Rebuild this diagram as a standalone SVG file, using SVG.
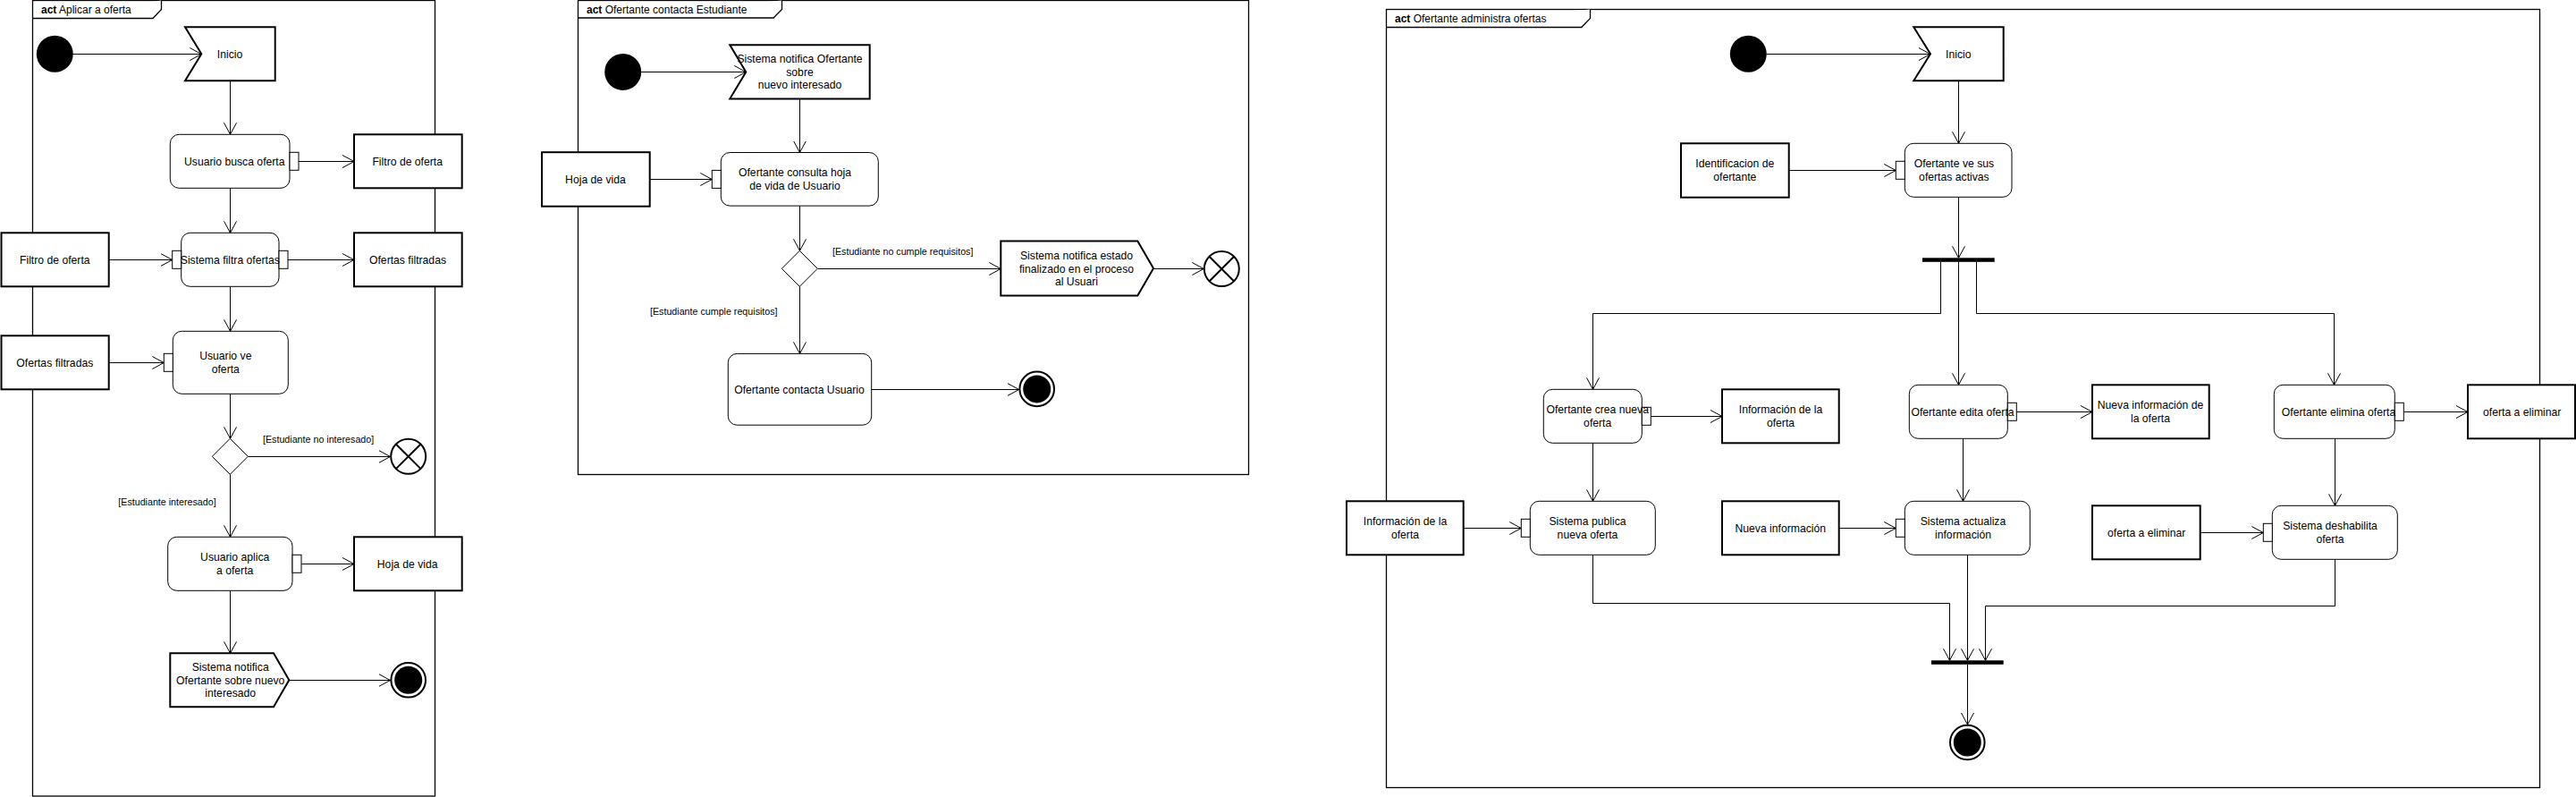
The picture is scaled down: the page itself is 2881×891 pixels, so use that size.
<svg xmlns="http://www.w3.org/2000/svg" width="2881" height="891" viewBox="0 0 2881 891">
<style>
.frame{fill:none;stroke:#000;stroke-width:1.3}
.tab{fill:#fff;stroke:#000;stroke-width:1.3}
.act{fill:#fff;stroke:#000;stroke-width:1}
.obj{fill:#fff;stroke:#000;stroke-width:2}
.pin{fill:#fff;stroke:#000;stroke-width:1}
.sig{fill:#fff;stroke:#000;stroke-width:2;stroke-linejoin:miter}
.dec{fill:#fff;stroke:#000;stroke-width:1}
.ini{fill:#000}
.ff{fill:#fff;stroke:#000;stroke-width:2}
.bar{fill:#000}
.t{font-family:"Liberation Sans",Arial,sans-serif;font-size:12.2px;text-anchor:middle;fill:#000}
.ti{font-family:"Liberation Sans",Arial,sans-serif;font-size:12px;fill:#000}
.g{font-family:"Liberation Sans",Arial,sans-serif;font-size:10.7px;fill:#000}
.e{fill:none;stroke:#000;stroke-width:1;marker-end:url(#arr)}
</style>
<defs>
<marker id="arr" viewBox="0 0 14 16" refX="13" refY="8" markerWidth="14" markerHeight="16" orient="auto" markerUnits="userSpaceOnUse"><path d="M0,1 L13,8 L0,15" fill="none" stroke="#000" stroke-width="1"/></marker>
</defs>
<rect width="2881" height="891" fill="#fff"/>

<g id="frame1">
<rect class="frame" x="36.5" y="0.5" width="450" height="889.5"/>
<path class="tab" d="M36.5,20.5 H171 L180.5,10.5 V0.5"/>
<text class="ti" x="46" y="15"><tspan font-weight="bold">act</tspan> Aplicar a oferta</text>
</g>
<g id="frame2">
<rect class="frame" x="646.5" y="0.5" width="750" height="530"/>
<path class="tab" d="M646.5,20 H865 L874.5,10.5 V0.5"/>
<text class="ti" x="656" y="15"><tspan font-weight="bold">act</tspan> Ofertante contacta Estudiante</text>
</g>
<g id="frame3">
<rect class="frame" x="1550.5" y="10.5" width="1290" height="870"/>
<path class="tab" d="M1550.5,30.5 H1768.7 L1778.5,20.5 V10.5"/>
<text class="ti" x="1560" y="25"><tspan font-weight="bold">act</tspan> Ofertante administra ofertas</text>
</g>

<g id="connectors">
<path class="e" d="M81.8,60.5 H225.3"/>
<path class="e" d="M257.5,90.3 V150.3"/>
<path class="e" d="M334,180.5 H396"/>
<path class="e" d="M257.5,210.3 V260.3"/>
<path class="e" d="M121.7,290.5 H192.7"/>
<path class="e" d="M322,290.5 H396"/>
<path class="e" d="M257.5,320.3 V370.3"/>
<path class="e" d="M121.7,405.5 H183.3"/>
<path class="e" d="M257.5,440.3 V490.3"/>
<path class="e" d="M277.3,510.5 H436.5"/>
<path class="e" d="M257.5,530.3 V600.3"/>
<path class="e" d="M337.3,630.5 H396"/>
<path class="e" d="M257.5,660.3 V730.3"/>
<path class="e" d="M323.3,760.5 H436.5"/>
<text class="g" x="294" y="494.8">[Estudiante no interesado]</text>
<text class="g" x="132.3" y="564.8">[Estudiante interesado]</text>

<path class="e" d="M717,80.5 H834.3"/>
<path class="e" d="M894.5,110.5 V170.5"/>
<path class="e" d="M726.7,200.5 H796.3"/>
<path class="e" d="M894.5,230.1 V280.3"/>
<path class="e" d="M914.3,300.5 H1119.3"/>
<path class="e" d="M1290,300.5 H1346.3"/>
<path class="e" d="M894.5,320.3 V395.4"/>
<path class="e" d="M974.7,435.5 H1139.7"/>
<text class="g" x="931" y="284.8">[Estudiante no cumple requisitos]</text>
<text class="g" x="727" y="352">[Estudiante cumple requisitos]</text>

<path class="e" d="M1975.8,60.5 H2159"/>
<path class="e" d="M2190.5,90.3 V160.3"/>
<path class="e" d="M2000.7,190.5 H2120.3"/>
<path class="e" d="M2190.5,220.3 V288.3"/>
<path class="e" d="M2170.5,292.8 V350.5 H1781.5 V435.3"/>
<path class="e" d="M2190.5,292.8 V430.3"/>
<path class="e" d="M2210.5,292.8 V350.5 H2610.5 V430.3"/>
<path class="e" d="M1846.3,465.5 H1926"/>
<path class="e" d="M1781.5,495.3 V560.3"/>
<path class="e" d="M1636.7,590.5 H1701.3"/>
<path class="e" d="M2255.3,460.5 H2340"/>
<path class="e" d="M2195.5,490.3 V560.3"/>
<path class="e" d="M2056.7,590.5 H2120.3"/>
<path class="e" d="M2688.3,460.5 H2760"/>
<path class="e" d="M2611.5,490.3 V565.3"/>
<path class="e" d="M2460.7,595.5 H2531.3"/>
<path class="e" d="M1781.5,620.3 V674.5 H2180.5 V738.3"/>
<path class="e" d="M2200.5,620.3 V738.3"/>
<path class="e" d="M2611.5,625.3 V677.5 H2220.5 V738.3"/>
<path class="e" d="M2200.5,742.8 V810"/>
</g>

<g id="n1_initial"><circle class="ini" cx="61.3" cy="60.3" r="20.5"/></g>
<g id="n1_inicio">
<polygon class="sig" points="207,30.3 307.7,30.3 307.7,90.3 207,90.3 225.3,60.3"/>
<text class="t" x="257" y="64.7">Inicio</text>
</g>
<g id="n1_busca">
<rect class="act" x="190.3" y="150.3" width="133.7" height="60" rx="10"/>
<rect class="pin" x="324" y="170.3" width="10" height="20"/>
<text class="t" x="262.3" y="184.7">Usuario busca oferta</text>
</g>
<g id="n1_filtro_out">
<rect class="obj" x="396" y="150.3" width="120.7" height="60"/>
<text class="t" x="455.7" y="184.7">Filtro de oferta</text>
</g>
<g id="n1_filtra">
<rect class="act" x="202.7" y="260.3" width="109.3" height="60" rx="10"/>
<rect class="pin" x="192.7" y="280.3" width="10" height="20"/>
<rect class="pin" x="312" y="280.3" width="10" height="20"/>
<text class="t" x="257.3" y="294.7">Sistema filtra ofertas</text>
</g>
<g id="n1_filtro_in">
<rect class="obj" x="1.5" y="260.3" width="120.2" height="60"/>
<text class="t" x="61.3" y="294.7">Filtro de oferta</text>
</g>
<g id="n1_ofertas_out">
<rect class="obj" x="396" y="260.3" width="120.7" height="60"/>
<text class="t" x="456" y="294.7">Ofertas filtradas</text>
</g>
<g id="n1_ve">
<rect class="act" x="193.3" y="370.3" width="129" height="70" rx="10"/>
<rect class="pin" x="183.3" y="395.3" width="10" height="20"/>
<text class="t" x="252.3" y="402.1">Usuario ve</text>
<text class="t" x="252.3" y="417.1">oferta</text>
</g>
<g id="n1_ofertas_in">
<rect class="obj" x="1.5" y="375.3" width="120.2" height="60"/>
<text class="t" x="61.3" y="409.7">Ofertas filtradas</text>
</g>
<g id="n1_decision"><polygon class="dec" points="257.3,490.3 277.3,510.3 257.3,530.3 237.3,510.3"/></g>
<g id="n1_flowfinal">
<circle class="ff" cx="456.7" cy="510.3" r="19.5"/>
<path d="M442.6,496.2 L470.8,524.4 M470.8,496.2 L442.6,524.4" stroke="#000" stroke-width="2"/>
</g>
<g id="n1_aplica">
<rect class="act" x="187.7" y="600.3" width="139.3" height="60" rx="10"/>
<rect class="pin" x="327" y="620.3" width="10" height="20"/>
<text class="t" x="262.7" y="627.1">Usuario aplica</text>
<text class="t" x="262.7" y="642.1">a oferta</text>
</g>
<g id="n1_hoja">
<rect class="obj" x="396" y="600.3" width="120.7" height="60"/>
<text class="t" x="455.7" y="635.1">Hoja de vida</text>
</g>
<g id="n1_notifica">
<polygon class="sig" points="190.3,730.3 306,730.3 323.3,760.3 306,790.3 190.3,790.3"/>
<text class="t" x="257.7" y="750.1">Sistema notifica</text>
<text class="t" x="257.7" y="765.1">Ofertante sobre nuevo</text>
<text class="t" x="257.7" y="778.7">interesado</text>
</g>
<g id="n1_final">
<circle cx="456.7" cy="760.3" r="19.3" fill="#fff" stroke="#000" stroke-width="2"/>
<circle cx="456.7" cy="760.3" r="15.5" fill="#000"/>
</g>

<g id="n2_initial"><circle class="ini" cx="696.7" cy="80.4" r="20.5"/></g>
<g id="n2_notifica">
<polygon class="sig" points="816.3,50.3 972.7,50.3 972.7,110.5 816.3,110.5 834.3,80.4"/>
<text class="t" x="894.5" y="70">Sistema notifica Ofertante</text>
<text class="t" x="894.5" y="84.8">sobre</text>
<text class="t" x="894.5" y="98.5">nuevo interesado</text>
</g>
<g id="n2_consulta">
<rect class="act" x="806.3" y="170.5" width="176" height="59.6" rx="10"/>
<rect class="pin" x="796.3" y="190.4" width="10" height="20"/>
<text class="t" x="889" y="197.3">Ofertante consulta hoja</text>
<text class="t" x="889" y="212.1">de vida de Usuario</text>
</g>
<g id="n2_hoja">
<rect class="obj" x="606" y="170.2" width="120.7" height="60.5"/>
<text class="t" x="666" y="205.1">Hoja de vida</text>
</g>
<g id="n2_decision"><polygon class="dec" points="894.3,280.3 914.3,300.3 894.3,320.3 874.3,300.3"/></g>
<g id="n2_estado">
<polygon class="sig" points="1119.3,269.6 1272.3,269.6 1290,300.1 1272.3,330.6 1119.3,330.6"/>
<text class="t" x="1204" y="290.3">Sistema notifica estado</text>
<text class="t" x="1204" y="305">finalizado en el proceso</text>
<text class="t" x="1204" y="318.8">al Usuari</text>
</g>
<g id="n2_flowfinal">
<circle class="ff" cx="1366.3" cy="300.6" r="19.5"/>
<path d="M1352.2,286.5 L1380.4,314.7 M1380.4,286.5 L1352.2,314.7" stroke="#000" stroke-width="2"/>
</g>
<g id="n2_contacta">
<rect class="act" x="814.3" y="395.4" width="160.4" height="79.8" rx="10"/>
<text class="t" x="894" y="440.1">Ofertante contacta Usuario</text>
</g>
<g id="n2_final">
<circle cx="1159.7" cy="434.9" r="19.3" fill="#fff" stroke="#000" stroke-width="2"/>
<circle cx="1159.7" cy="434.9" r="15.5" fill="#000"/>
</g>

<g id="n3_initial"><circle class="ini" cx="1955.3" cy="60.3" r="20.5"/></g>
<g id="n3_inicio">
<polygon class="sig" points="2140.3,30.3 2240.7,30.3 2240.7,90.3 2140.3,90.3 2159,60.3"/>
<text class="t" x="2190.3" y="64.7">Inicio</text>
</g>
<g id="n3_ident">
<rect class="obj" x="1880" y="160.3" width="120.7" height="60.4"/>
<text class="t" x="1940.3" y="187.1">Identificacion de</text>
<text class="t" x="1940.3" y="202.1">ofertante</text>
</g>
<g id="n3_ve">
<rect class="act" x="2130.3" y="160.3" width="119.7" height="60" rx="10"/>
<rect class="pin" x="2120.3" y="180.3" width="10" height="20"/>
<text class="t" x="2185.4" y="187.1">Ofertante ve sus</text>
<text class="t" x="2185.4" y="202.1">ofertas activas</text>
</g>
<g id="n3_fork"><rect class="bar" x="2150" y="288.3" width="80.7" height="4.5"/></g>
<g id="n3_crea">
<rect class="act" x="1726.3" y="435.3" width="110" height="60" rx="10"/>
<rect class="pin" x="1836.3" y="455.3" width="10" height="20"/>
<text class="t" x="1786.7" y="462.1">Ofertante crea nueva</text>
<text class="t" x="1786.7" y="476.7">oferta</text>
</g>
<g id="n3_info_out">
<rect class="obj" x="1926" y="435.3" width="130.7" height="60"/>
<text class="t" x="1991.5" y="462.1">Información de la</text>
<text class="t" x="1991.5" y="476.7">oferta</text>
</g>
<g id="n3_edita">
<rect class="act" x="2135.3" y="430.3" width="110" height="60" rx="10"/>
<rect class="pin" x="2245.3" y="450.3" width="10" height="20"/>
<text class="t" x="2195" y="465.1">Ofertante edita oferta</text>
</g>
<g id="n3_nueva_out">
<rect class="obj" x="2340" y="430.3" width="130.7" height="60"/>
<text class="t" x="2405" y="457.1">Nueva información de</text>
<text class="t" x="2405" y="472.1">la oferta</text>
</g>
<g id="n3_elimina">
<rect class="act" x="2543.3" y="430.3" width="135" height="60" rx="10"/>
<rect class="pin" x="2678.3" y="450.3" width="10" height="20"/>
<text class="t" x="2615.5" y="465.1">Ofertante elimina oferta</text>
</g>
<g id="n3_elim_out">
<rect class="obj" x="2760" y="430.3" width="120" height="60"/>
<text class="t" x="2820.7" y="465.1">oferta a eliminar</text>
</g>
<g id="n3_info_in">
<rect class="obj" x="1506" y="560.3" width="130.7" height="60"/>
<text class="t" x="1571.5" y="587.1">Información de la</text>
<text class="t" x="1571.5" y="602.1">oferta</text>
</g>
<g id="n3_publica">
<rect class="act" x="1711.3" y="560.3" width="140" height="60" rx="10"/>
<rect class="pin" x="1701.3" y="580.3" width="10" height="20"/>
<text class="t" x="1775.5" y="587.1">Sistema publica</text>
<text class="t" x="1775.5" y="602.1">nueva oferta</text>
</g>
<g id="n3_nueva_in">
<rect class="obj" x="1926" y="560.3" width="130.7" height="60"/>
<text class="t" x="1991.3" y="595.1">Nueva información</text>
</g>
<g id="n3_actualiza">
<rect class="act" x="2130.3" y="560.3" width="140" height="60" rx="10"/>
<rect class="pin" x="2120.3" y="580.3" width="10" height="20"/>
<text class="t" x="2195.5" y="587.1">Sistema actualiza</text>
<text class="t" x="2195.5" y="602.1">información</text>
</g>
<g id="n3_elim_in">
<rect class="obj" x="2340" y="565.3" width="120.7" height="60"/>
<text class="t" x="2400.7" y="600.4">oferta a eliminar</text>
</g>
<g id="n3_deshabilita">
<rect class="act" x="2541.3" y="565.3" width="140" height="60" rx="10"/>
<rect class="pin" x="2531.3" y="585.3" width="10" height="20"/>
<text class="t" x="2606" y="592.1">Sistema deshabilita</text>
<text class="t" x="2606" y="607.1">oferta</text>
</g>
<g id="n3_join"><rect class="bar" x="2160" y="738.3" width="80.7" height="4.5"/></g>
<g id="n3_final">
<circle cx="2200.3" cy="830" r="19.3" fill="#fff" stroke="#000" stroke-width="2"/>
<circle cx="2200.3" cy="830" r="15.5" fill="#000"/>
</g>
</svg>
